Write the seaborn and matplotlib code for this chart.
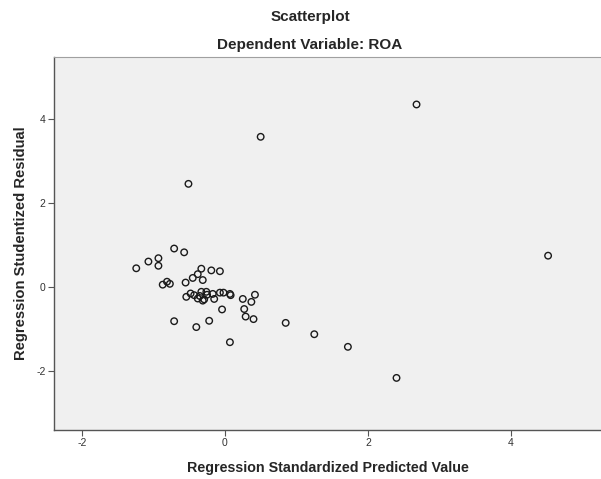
import pandas as pd
import seaborn as sns
import matplotlib.pyplot as plt

# values
pred = [-1.24, -1.07, -0.93, -0.93, -0.71, -0.57, -0.87, -0.81, -0.77, -0.55,
        -0.45, -0.38, -0.33, -0.31, -0.19, -0.07, -0.54, -0.48, -0.43, -0.38,
        -0.35, -0.33, -0.31, -0.29, -0.26, -0.25, -0.17, -0.15, -0.07, -0.02,
        0.07, 0.08, -0.04, 0.25, 0.42, 0.37, 0.27, 0.29, 0.40, -0.71,
        -0.40, -0.22, 0.07, 0.85, 1.25, 1.72, 2.40, 2.68, 0.50, -0.51, 4.52]
resid = [0.44, 0.60, 0.68, 0.50, 0.91, 0.82, 0.05, 0.12, 0.07, 0.10,
         0.21, 0.30, 0.43, 0.16, 0.39, 0.37, -0.24, -0.16, -0.20, -0.28,
         -0.22, -0.12, -0.33, -0.30, -0.12, -0.19, -0.17, -0.29, -0.14, -0.14,
         -0.17, -0.20, -0.54, -0.29, -0.19, -0.36, -0.53, -0.71, -0.77, -0.82,
         -0.96, -0.81, -1.32, -0.86, -1.13, -1.43, -2.17, 4.34, 3.57, 2.45, 0.74]
x_ticks = [-2, 0, 2, 4]
y_ticks = [-2, 0, 2, 4]

df = pd.DataFrame({'pred': pred, 'resid': resid})

sns.set_style('white')
plt.rcParams['font.family'] = ['Liberation Sans', 'DejaVu Sans']

fig = plt.figure(figsize=(6.01, 4.79), dpi=100)
ax = fig.add_axes([0.0899, 0.1023, 0.9101, 0.7787])
ax.set_facecolor('#f0f0f0')

sns.scatterplot(data=df, x='pred', y='resid', ax=ax, s=22,
                facecolor='none', edgecolor='#1a1a1a', linewidth=1.0)

ax.set_xlim(-2.39, 5.26)
ax.set_ylim(-3.41, 5.47)
ax.set_xticks(x_ticks)
ax.set_yticks(y_ticks)
ax.set_xticklabels([str(t) for t in x_ticks])
ax.set_yticklabels([str(t) for t in y_ticks])
ax.tick_params(axis='both', length=4, width=0.8, color='#555555',
               labelsize=7.5, labelcolor='#333333', pad=2, direction='out')
ax.tick_params(bottom=True, left=True)

for side in ['left', 'bottom']:
    ax.spines[side].set_color('#555555')
    ax.spines[side].set_linewidth(1.0)
ax.spines['top'].set_color('#a0a0a0')
ax.spines['right'].set_visible(False)

ax.set_xlabel('Regression Standardized Predicted Value', fontsize=10.3,
              fontweight='bold', labelpad=9)
ax.set_ylabel('Regression Studentized Residual', fontsize=10.6,
              fontweight='bold', labelpad=6)

fig.text(0.516, 0.9568, 'Scatterplot', ha='center', va='baseline',
         fontsize=11, fontweight='bold')
fig.text(0.516, 0.8977, 'Dependent Variable: ROA', ha='center', va='baseline',
         fontsize=11, fontweight='bold')

fig.savefig('out.png', dpi=100)
